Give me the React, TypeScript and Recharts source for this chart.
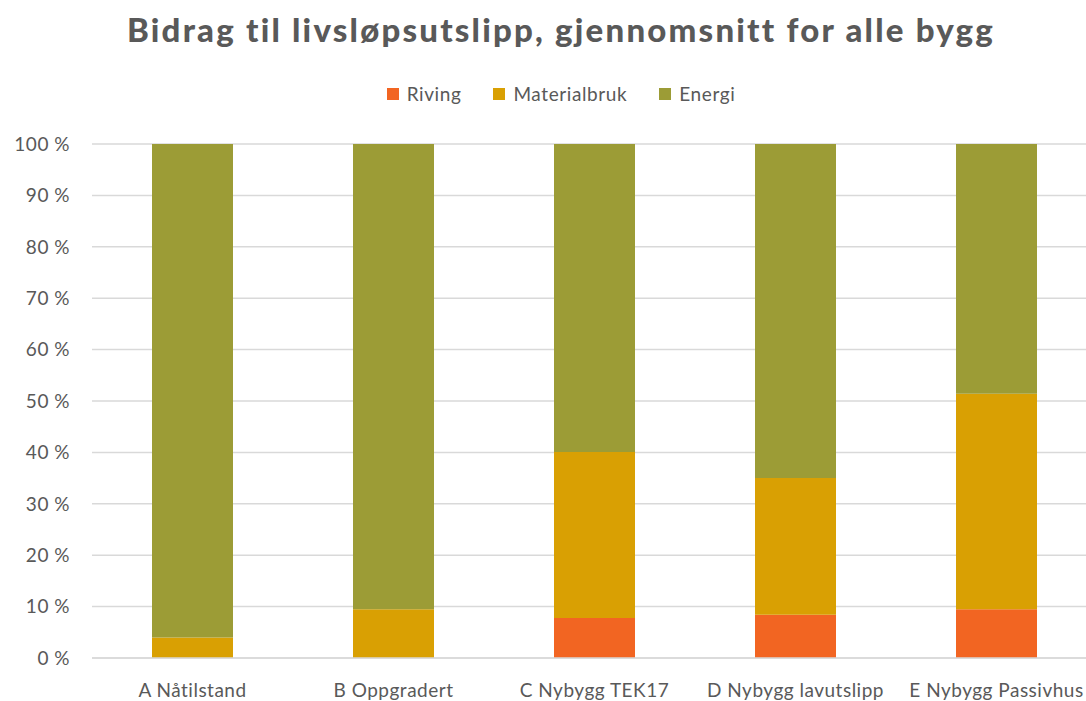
import React from 'react';
import { BarChart, Bar, XAxis, YAxis, CartesianGrid } from 'recharts';

const categories = ['A Nåtilstand', 'B Oppgradert', 'C Nybygg TEK17', 'D Nybygg lavutslipp', 'E Nybygg Passivhus'];
const riving = [0, 0, 7.8, 8.4, 9.5];
const materialbruk = [4, 9.5, 32.3, 26.6, 41.9];
const energi = [96, 90.5, 59.9, 65, 48.6];
const yTicks = [0, 10, 20, 30, 40, 50, 60, 70, 80, 90, 100];

const series = [
  { key: 'Riving', color: '#f26522' },
  { key: 'Materialbruk', color: '#d9a003' },
  { key: 'Energi', color: '#9c9c36' },
];

const data = categories.map((name, i) => ({
  name,
  Riving: riving[i],
  Materialbruk: materialbruk[i],
  Energi: energi[i],
}));

const FONT = 'Lato, "Noto Sans", sans-serif';
const GRAY = '#595959';

const App = () => {
  return (
    <div
      style={{
        position: 'absolute',
        left: 0,
        top: 0,
        width: 1086,
        height: 701,
        overflow: 'hidden',
        background: '#fff',
        fontFamily: FONT,
      }}
    >
      <div
        style={{
          position: 'absolute',
          left: 0,
          top: 9,
          width: 1122,
          textAlign: 'center',
          fontSize: 33,
          fontWeight: 900,
          color: GRAY,
          letterSpacing: 2.2,
          whiteSpace: 'nowrap',
        }}
      >
        Bidrag til livsløpsutslipp, gjennomsnitt for alle bygg
      </div>

      {/* legend row */}
      <div
        style={{
          position: 'absolute',
          left: 0,
          top: 82,
          width: 1122,
          display: 'flex',
          justifyContent: 'center',
          gap: 32,
          fontSize: 19,
          color: GRAY,
          letterSpacing: 0.6,
        }}
      >
        {series.map((s) => (
          <div key={s.key} style={{ display: 'flex', alignItems: 'center' }}>
            <span style={{ width: 12, height: 12, background: s.color, marginRight: 8, display: 'inline-block' }} />
            <span>{s.key}</span>
          </div>
        ))}
      </div>

      <BarChart
        width={1097}
        height={720}
        data={data}
        margin={{ top: 144, right: 0, bottom: 32, left: 0 }}
        barSize={81}
      >
        <CartesianGrid vertical={false} stroke="#d9d9d9" strokeWidth={1.5} />
        <XAxis
          dataKey="name"
          axisLine={{ stroke: '#d9d9d9', strokeWidth: 1.5 }}
          tickLine={false}
          tick={{ fill: GRAY, fontSize: 19, letterSpacing: 0.5 }}
          tickMargin={20}
          interval={0}
        />
        <YAxis
          width={92}
          domain={[0, 100]}
          ticks={yTicks}
          tickFormatter={(v: number) => `${v} %`}
          axisLine={false}
          tickLine={false}
          tickSize={0}
          tickMargin={22}
          tick={{ fill: GRAY, fontSize: 19, letterSpacing: 0.5 }}
        />
        {series.map((s) => (
          <Bar key={s.key} dataKey={s.key} stackId="a" fill={s.color} isAnimationActive={false} />
        ))}
      </BarChart>
    </div>
  );
};

export default App;
